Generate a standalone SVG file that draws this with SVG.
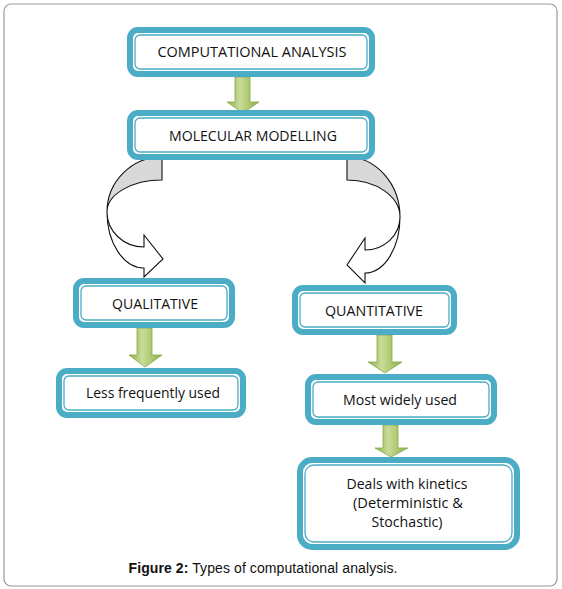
<svg xmlns="http://www.w3.org/2000/svg" width="562" height="589" viewBox="0 0 562 589">
<defs>
<linearGradient id="g" x1="0" y1="0" x2="1" y2="0">
<stop offset="0" stop-color="#8DB048"/>
<stop offset="0.4" stop-color="#C9DC9A"/>
<stop offset="0.6" stop-color="#B5CE7A"/>
<stop offset="1" stop-color="#8DB048"/>
</linearGradient>
<style>
.ob{fill:#fff;stroke:#4BACC6;stroke-width:6}
.ib{fill:none;stroke:#4BACC6;stroke-width:1.3}
.t{font-family:"Open Sans","Noto Sans",sans-serif;font-size:15px;fill:#111;text-anchor:middle}
.ga{fill:url(#g);stroke:#86A84A;stroke-width:0.8}
.ca{stroke:#111;stroke-width:1.1;stroke-linejoin:miter}
</style>
</defs>
<rect x="4" y="4" width="553" height="582" rx="7" fill="#fff" stroke="#9a9a9a" stroke-width="1.2"/>
<g id="connectors">
<path class="ga" d="M235,77 H250 V102 H259 L243,113 L227,102 H235 Z"/>
<path class="ga" d="M137,328 H152 V355 H162 L145,367 L129,355 H137 Z"/>
<path class="ga" d="M377,335 H392 V362 H402 L385,373 L368,362 H377 Z"/>
<path class="ga" d="M383,425 H398 V448 H408 L391,457 L375,448 H383 Z"/>
<g id="curve-left">
<path class="ca" fill="#fff" d="M107,212 A37,35 0 0 0 144,247 L144,235 L163,259 L144,277 L144,268 A37,56 0 0 1 107,212 Z"/>
<path class="ca" fill="#D9D9D9" d="M162,157 A55,55 0 0 0 107,212 A55,32 0 0 1 162,180 Z"/>
</g>
<g id="curve-right">
<path class="ca" fill="#fff" d="M400,217 A35,33 0 0 1 365,250 L365,238 L347,265 L365,283 L365,273 A35,56 0 0 0 400,217 Z"/>
<path class="ca" fill="#D9D9D9" d="M347,157 A53,60 0 0 1 400,217 A53,37 0 0 0 347,180 Z"/>
</g>
</g>
<g id="computational">
<rect class="ob" x="130" y="30" width="242" height="44" rx="8"/>
<rect class="ib" x="135" y="35" width="232" height="34" rx="5"/>
<text class="t" x="252" y="57" textLength="189" lengthAdjust="spacingAndGlyphs">COMPUTATIONAL ANALYSIS</text>
</g>
<g id="molecular">
<rect class="ob" x="130" y="113" width="242" height="44" rx="8"/>
<rect class="ib" x="135" y="118" width="232" height="34" rx="5"/>
<text class="t" x="253" y="141" textLength="168" lengthAdjust="spacingAndGlyphs">MOLECULAR MODELLING</text>
</g>
<g id="qualitative">
<rect class="ob" x="76" y="281" width="156" height="44" rx="8"/>
<rect class="ib" x="81" y="286" width="146" height="34" rx="5"/>
<text class="t" x="155" y="309" textLength="86" lengthAdjust="spacingAndGlyphs">QUALITATIVE</text>
</g>
<g id="less">
<rect class="ob" x="59" y="371" width="184" height="44" rx="8"/>
<rect class="ib" x="64" y="376" width="174" height="34" rx="5"/>
<text class="t" x="153" y="398" textLength="134" lengthAdjust="spacingAndGlyphs">Less frequently used</text>
</g>
<g id="quantitative">
<rect class="ob" x="295" y="288" width="159" height="44" rx="8"/>
<rect class="ib" x="300" y="293" width="149" height="34" rx="5"/>
<text class="t" x="374" y="316" textLength="98" lengthAdjust="spacingAndGlyphs">QUANTITATIVE</text>
</g>
<g id="most">
<rect class="ob" x="308" y="377" width="186" height="45" rx="8"/>
<rect class="ib" x="313" y="382" width="176" height="35" rx="5"/>
<text class="t" x="400" y="405" textLength="114" lengthAdjust="spacingAndGlyphs">Most widely used</text>
</g>
<g id="deals">
<rect class="ob" x="300" y="460" width="217" height="87" rx="12"/>
<rect class="ib" x="305" y="465" width="207" height="77" rx="9"/>
<text class="t" x="407" y="489" textLength="121" lengthAdjust="spacingAndGlyphs">Deals with kinetics</text>
<text class="t" x="408" y="508" textLength="110" lengthAdjust="spacingAndGlyphs">(Deterministic &amp;</text>
<text class="t" x="407" y="527" textLength="71" lengthAdjust="spacingAndGlyphs">Stochastic)</text>
</g>
<text x="263" y="573" font-family="'Liberation Sans',Arial,sans-serif" font-size="14" fill="#111" text-anchor="middle" textLength="269"><tspan font-weight="bold">Figure 2:</tspan> Types of computational analysis.</text>
</svg>
